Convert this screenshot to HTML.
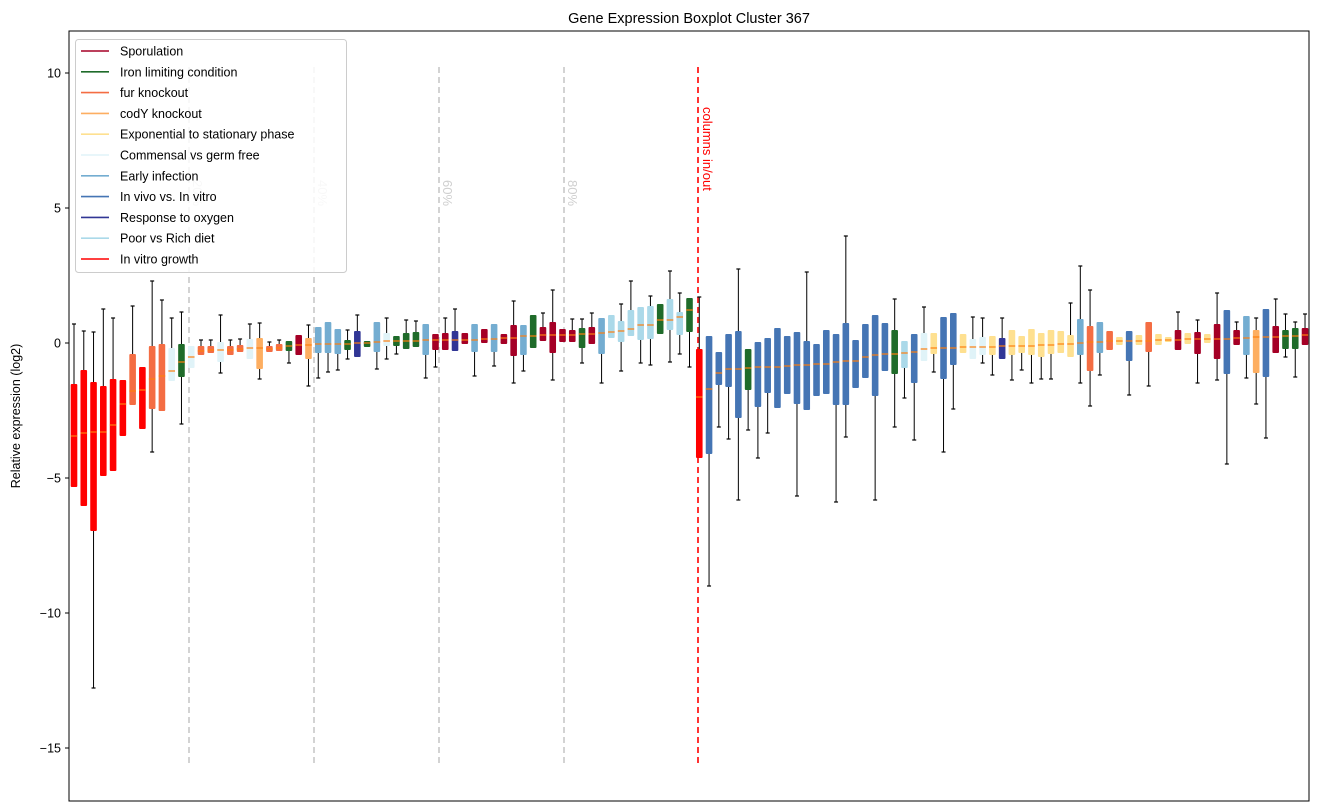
<!DOCTYPE html>
<html><head><meta charset="utf-8"><style>
html,body{margin:0;padding:0;background:#fff;}
svg{display:block;font-family:"Liberation Sans","DejaVu Sans",sans-serif;}
</style></head><body>
<svg id="s" width="1318" height="812" xmlns="http://www.w3.org/2000/svg">
<rect width="1318" height="812" fill="#fff"/>
<text x="689" y="23" font-size="14.5" text-anchor="middle">Gene Expression Boxplot Cluster 367</text>
<text transform="translate(20,416) rotate(-90)" font-size="12.5" text-anchor="middle">Relative expression (log2)</text>
<g id="ticks" font-size="12.5" text-anchor="end"></g>
<g id="vl"></g>
<g id="bx"></g>
<rect x="69" y="31" width="1240" height="770" fill="none" stroke="#000" stroke-width="1"/>
<g id="lg"></g>
</svg>
<script>
const NS="http://www.w3.org/2000/svg";
function el(p,t,a,txt){const e=document.createElementNS(NS,t);for(const k in a)e.setAttribute(k,a[k]);if(txt!==undefined)e.textContent=txt;p.appendChild(e);return e;}
const tk=document.getElementById('ticks');
[[10,73],[5,208],[0,343],[-5,478],[-10,613],[-15,748]].forEach(([v,y])=>{
 el(tk,'line',{x1:65,x2:69,y1:y,y2:y,stroke:'#000'});
 el(tk,'text',{x:61,y:y+4.5},v<0?'\u2212'+(-v):''+v);
});
const vl=document.getElementById('vl');
[189,314,439,564].forEach(x=>el(vl,'line',{x1:x,x2:x,y1:67,y2:767,stroke:'#c8c8c8','stroke-width':1.6,'stroke-dasharray':'6,4'}));
el(vl,'line',{x1:698,x2:698,y1:67,y2:767,stroke:'#f00','stroke-width':1.6,'stroke-dasharray':'6,4'});
[['20%',193],['40%',318],['60%',443],['80%',568]].forEach(([t,x])=>el(vl,'text',{transform:`translate(${x},180) rotate(90)`,'font-size':13,fill:'#cfcfcf'},t));
el(vl,'text',{transform:'translate(703,107) rotate(90)','font-size':13,fill:'#f00'},'columns in/out');
const C={R:'#ff0000',F:'#f46d43',C:'#fdae61',E:'#fee090',M:'#e0f3f8',Ei:'#74add1',V:'#4575b4',O:'#313695',P:'#abd9e9',S:'#a50026',I:'#1f6b2a'};
const D=[
['R',324,384,436,487,null],['R',331,370,433,506,null],['R',332,382,432,531,688],['R',309,386,432,476,null],['R',318,379,425,471,null],['R',null,380,404,436,null],
['F',306,354,391,405,null],['R',null,367,390,429,null],['F',281,346,379,409,452],['F',300,344,376,411,null],['M',318,348,371,381,null],['I',312,344,362,377,424],
['M',null,346,357,368,null],['F',340,346,351,355,null],['F',340,346,350,353,null],['M',315,342,350,362,373],['F',340,346,350,355,null],['F',339,345,349,352,null],
['M',324,339,348,359,null],['C',323,338,348,369,379],['F',342,346,349,352,null],['F',340,344,348,351,null],['I',null,341,346,351,363],['S',null,335,345,355,null],
['C',325,338,345,359,386],['Ei',null,327,344,353,378],['Ei',null,322,344,353,372],['Ei',null,329,344,354,370],['I',330,340,344,350,359],['O',315,331,343,357,null],
['I',null,341,343,347,null],['Ei',null,322,342,352,369],['M',318,333,341,346,359],['I',null,336,341,346,354],['I',320,333,341,349,null],['I',321,332,341,347,null],
['Ei',null,324,340,355,378],['S',null,334,340,350,367],['S',318,333,340,350,null],['O',309,331,340,351,null],['S',null,333,340,344,null],['Ei',null,324,340,352,376],
['S',null,329,339,343,null],['Ei',null,324,339,352,366],['S',null,334,338,344,null],['S',301,325,338,356,383],['Ei',null,325,336,355,371],['I',null,315,336,348,null],
['S',313,327,335,341,null],['S',290,322,335,353,380],['S',null,329,335,342,null],['S',319,330,335,342,null],['I',319,328,334,348,363],['S',313,327,334,344,null],
['Ei',null,318,333,354,383],['P',null,315,332,338,null],['P',304,321,331,342,371],['P',281,310,329,336,null],['P',null,307,325,340,363],['P',296,306,325,339,365],
['I',null,304,320,334,null],['P',271,299,320,330,362],['P',293,312,317,335,354],['I',null,298,310,332,367],['R',297,349,397,458,null],['V',null,336,389,454,586],
['V',null,352,373,385,427],['V',null,334,369,387,439],['V',269,331,369,418,500],['I',null,349,368,390,430],['V',null,342,367,407,458],['V',null,338,367,393,433],
['V',null,328,367,408,null],['V',null,336,366,394,null],['V',null,332,365,404,496],['V',272,341,365,410,null],['V',null,344,364,396,null],['V',null,330,364,394,null],
['V',null,334,362,405,502],['V',236,323,361,405,437],['V',null,340,361,388,null],['V',null,324,357,378,null],['V',null,315,355,396,500],['V',null,323,354,371,null],
['I',299,330,354,374,427],['P',null,341,353,368,398],['V',null,334,352,383,440],['M',307,333,349,361,null],['E',null,333,348,354,372],['V',null,317,348,379,452],
['V',null,313,348,365,409],['E',null,334,347,353,null],['M',317,339,347,359,null],['M',318,337,347,355,363],['E',null,336,347,355,375],['O',318,338,346,359,null],
['E',null,330,346,355,380],['E',null,336,346,353,370],['E',null,329,346,355,383],['E',null,333,345,357,379],['E',null,330,345,354,379],['E',null,331,344,353,null],
['E',303,335,344,357,null],['Ei',266,319,343,355,383],['F',290,326,342,371,406],['Ei',null,322,342,353,375],['F',null,331,341,350,null],['E',null,337,341,345,null],
['V',null,331,341,361,395],['E',null,335,341,345,null],['F',null,322,341,352,386],['E',null,334,340,345,null],['E',null,337,340,342,null],['S',312,330,340,350,null],
['E',null,333,339,344,null],['S',320,332,339,354,383],['E',null,334,339,343,null],['S',293,324,339,359,380],['V',null,310,339,374,464],['S',322,330,338,345,null],
['Ei',null,316,338,355,378],['C',318,330,337,373,404],['V',null,309,337,377,438],['S',299,326,337,353,null],['I',314,330,336,349,357],['I',322,328,336,349,377],
['S',314,328,335,345,null]];
const bx=document.getElementById('bx');
D.forEach((d,i)=>{
 const x=74+i*9.77;let [c,t,q3,m,q1,lo]=d;
 const iqr=q1-q3;
 const g=el(bx,'g',{});
 if(t!==null){
  el(g,'line',{x1:x,x2:x,y1:t,y2:q3,stroke:'#000','stroke-width':1});
  el(g,'line',{x1:x-2,x2:x+2,y1:t,y2:t,stroke:'#000','stroke-width':1.2});
 }
 if(lo!==null){
  el(g,'line',{x1:x,x2:x,y1:q1,y2:lo,stroke:'#000','stroke-width':1});
  el(g,'line',{x1:x-2,x2:x+2,y1:lo,y2:lo,stroke:'#000','stroke-width':1.2});
 }
 el(g,'rect',{x:x-3.3,y:q3,width:6.6,height:Math.max(1,iqr),rx:1,fill:C[c]});
 el(g,'line',{x1:x-3.3,x2:x+3.3,y1:m,y2:m,stroke:'#ff7f0e','stroke-width':1.2});
});
const lg=document.getElementById('lg');
el(lg,'rect',{x:75.5,y:39.5,width:271,height:233,rx:3,fill:'#fff','fill-opacity':0.85,stroke:'#ccc'});
[['Sporulation','#a50026'],['Iron limiting condition','#1f6b2a'],['fur knockout','#f46d43'],['codY knockout','#fdae61'],['Exponential to stationary phase','#fee090'],['Commensal vs germ free','#e0f3f8'],['Early infection','#74add1'],['In vivo vs. In vitro','#4575b4'],['Response to oxygen','#313695'],['Poor vs Rich diet','#abd9e9'],['In vitro growth','#ff0000']].forEach(([t,c],i)=>{
 const y=51+i*20.8;
 el(lg,'line',{x1:81,x2:109,y1:y,y2:y,stroke:c,'stroke-width':1.6});
 el(lg,'text',{x:120,y:y+4.5,'font-size':12.5},t);
});
</script>
</body></html>
